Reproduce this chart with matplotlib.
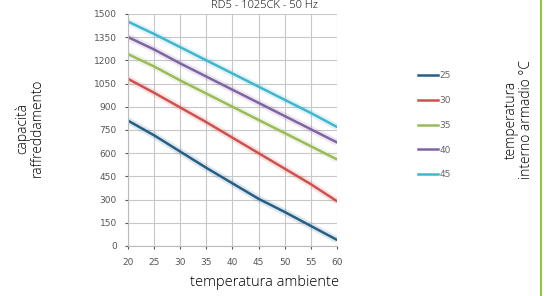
import matplotlib.pyplot as plt
import numpy as np

# temperatura ambiente
t_amb = [20, 25, 30, 35, 40, 45, 50, 55, 60]

# capacità raffreddamento per temperatura interno armadio
cap_25 = [810, 715, 610, 505, 405, 305, 220, 130, 40]
cap_30 = [1080, 990, 895, 800, 700, 600, 500, 400, 290]
cap_35 = [1240, 1160, 1070, 985, 900, 815, 730, 645, 560]
cap_40 = [1350, 1270, 1180, 1095, 1010, 925, 840, 755, 670]
cap_45 = [1450, 1370, 1285, 1200, 1115, 1030, 945, 860, 770]

labels = ["25", "30", "35", "40", "45"]
series = [cap_25, cap_30, cap_35, cap_40, cap_45]
colors = ["#255f86", "#d0504e", "#9bbb59", "#8064a2", "#3fb6cf"]

fig = plt.figure(figsize=(5.45, 2.96), dpi=100)
ax = fig.add_axes([0.235, 0.169, 0.383, 0.784])

for y, lab, c in zip(series, labels, colors):
    ax.plot(t_amb, y, color=c, lw=5, alpha=0.15, solid_capstyle='butt')
    ax.plot(t_amb, y, color=c, lw=1.8, label=lab)

ax.set_xlim(20, 60)
ax.set_ylim(0, 1500)
ax.set_xticks(np.arange(20, 61, 5))
ax.set_yticks(np.arange(0, 1501, 150))
ax.grid(True, color="#c8c8c8", lw=0.8)
for s in ["top", "right"]:
    ax.spines[s].set_visible(False)
for s in ["left", "bottom"]:
    ax.spines[s].set_color("#bbbbbb")
ax.tick_params(labelsize=6.5, colors="#555555", length=2, pad=6)
ax.tick_params(axis="x", pad=7)

leg = ax.legend(loc="center left", bbox_to_anchor=(1.35, 0.52), frameon=False,
                fontsize=6.5, handlelength=2.2, labelspacing=1.75, handletextpad=0.2)
for t in leg.get_texts():
    t.set_color("#666666")

font = dict(family="Open Sans", weight="light", color="black")
fig.text(0.486, 0.045, "temperatura ambiente", ha="center", va="center", fontsize=10.5, **font)
fig.text(0.055, 0.567, "capacità\nraffreddamento", rotation=90, ha="center", va="center",
         fontsize=10, linespacing=0.95, **font)
fig.text(0.952, 0.595, "temperatura\ninterno armadio °C", rotation=90, ha="center", va="center",
         fontsize=10, linespacing=0.95, **font)
fig.text(0.486, 1.0, "RD5 - 1025CK - 50 Hz", ha="center", va="top", fontsize=8, **font)

# linea verde a destra
fig.add_artist(plt.Line2D([0.993, 0.993], [0, 1], color="#8dc63f", lw=1.5,
                          transform=fig.transFigure))

fig.savefig("out.png", dpi=100)
